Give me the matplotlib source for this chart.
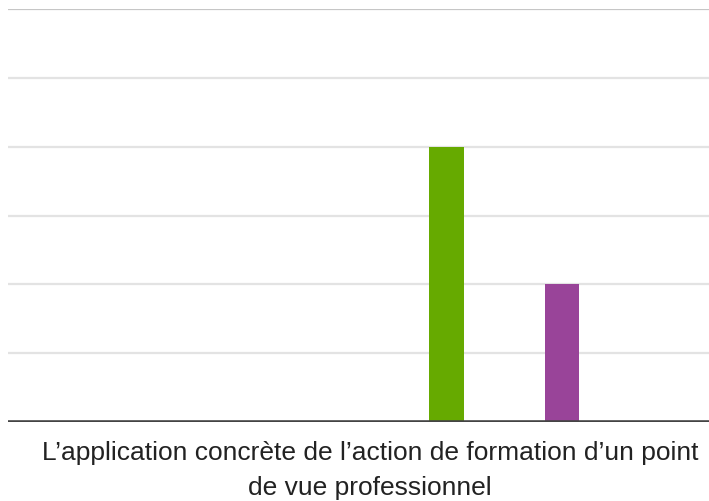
import matplotlib
matplotlib.use("Agg")
import matplotlib.pyplot as plt
import numpy as np

category = "L’application concrète de l’action de formation d’un point\nde vue professionnel"
series_names = ["S1", "S2", "S3", "S4", "S5", "S6", "S7", "S8", "S9", "S10", "S11"]
values = [0, 0, 0, 0, 0, 0, 0, 4, 0, 0, 2]
colors = ["#3366cc", "#dc3912", "#ff9900", "#109618", "#990099", "#0099c6",
          "#dd4477", "#66aa00", "#b82e2e", "#316395", "#994499"]
y_ticks = [0, 1, 2, 3, 4, 5, 6]

plt.rcParams['font.family'] = ['Liberation Sans', 'DejaVu Sans']

fig = plt.figure(figsize=(7.09, 5.02), dpi=100)
ax = fig.add_axes([8/709, 79/502, 701/709, 413/502])

n = len(values)
slot = 1.0
offsets = (np.arange(n) - (n - 1) / 2) * slot
for off, v, c in zip(offsets, values, colors):
    if v > 0:
        ax.bar(off, v, width=0.91, color=c, zorder=3)
    else:
        ax.bar(off, 0.02, width=1.0, color=c, alpha=0.12, zorder=3, linewidth=0)

for t in y_ticks[1:-1]:
    ax.axhline(t, color="#e3e3e3", lw=1.6, zorder=1)
ax.axhline(y_ticks[-1], color="#c6c6c6", lw=1.6, zorder=1)
ax.axhline(0, color="#444444", lw=2.6, zorder=4)
ax.axhline(-0.03, color="#bbbbbb", lw=1.0, zorder=4)

ax.set_xlim((8 - 370) / 38.4, (709 - 370) / 38.4)
ax.set_ylim(0, 6)
ax.set_xticks([0])
ax.set_xticklabels([category], fontsize=19, color="#222222", linespacing=1.58)
ax.tick_params(axis='x', length=0, pad=13)
ax.set_yticks([])
for s in ax.spines.values():
    s.set_visible(False)

fig.savefig("out.png", dpi=100)
